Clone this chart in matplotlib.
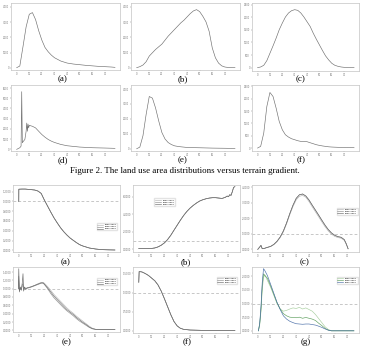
import matplotlib
matplotlib.use('Agg')
import matplotlib.pyplot as plt

# --- DATA ---
# top two rows: area distribution versus terrain gradient
x_top = [0, 2.5, 5, 7.5, 10, 12.5, 15, 17.5, 20, 22.5, 25, 27.5, 30, 32.5, 35, 37.5,
         40, 45, 50, 55, 60, 65, 70, 75, 78]
dist_a = [0, 110, 1380, 2690, 3520, 3630, 3170, 2430, 1810, 1330, 1050, 830, 656, 546,
          437, 372, 306, 240, 197, 153, 120, 87, 66, 44, 22]
dist_e = [0, 110, 875, 2295, 3500, 3390, 2730, 1860, 1090, 656, 415, 284, 197, 160,
          131, 110, 87, 75, 66, 55, 44, 38, 33, 25, 22]

x_b = [0, 2.5, 5, 7.5, 10, 12.5, 15, 17.5, 20, 22.5, 25, 27.5, 30, 32.5, 35, 37.5, 40,
       42.5, 45, 47.5, 50, 52.5, 55, 57.5, 60, 62.5, 65, 67.5, 70, 72.5, 75, 78]
dist_b = [0, 66, 175, 393, 765, 984, 1200, 1377, 1552, 1814, 2077, 2295, 2514, 2732,
          2951, 3126, 3344, 3563, 3738, 3825, 3694, 3388, 3020, 2400, 1300, 650, 300,
          120, 44, 15, 0, 0]
dist_c = [0, 27, 93, 279, 572, 864, 1170, 1503, 1769, 2008, 2168, 2261, 2301, 2274,
          2168, 2008, 1822, 1636, 1370, 1130, 904, 678, 465, 306, 173, 93, 53, 27, 13,
          5, 0, 0]
dist_f = [0, 68, 608, 1689, 2257, 2095, 1622, 1081, 743, 540, 446, 378, 338, 297, 270,
          270, 257, 216, 176, 135, 108, 85, 68, 50, 41, 35, 30, 27, 27, 20, 16, 14]

x_d = [0, 2.5, 3.5, 4.0, 4.5, 5, 6.5, 7.5, 8.0, 8.5, 9.0, 9.5, 10, 12.5, 15, 17.5, 20,
       22.5, 25, 27.5, 30, 35, 40, 45, 50, 55, 60, 70, 78]
dist_d = [0, 160, 320, 5645, 645, 740, 970, 1770, 2580, 1770, 2480, 2100, 2350, 2258,
          2100, 1770, 1450, 1190, 970, 806, 677, 484, 355, 290, 226, 194, 160, 130, 100]

# bottom two rows: ratio curves, three periods each
periods = ['2000-2005', '2005-2010', '2000-2010']
x_ra = [0, 0.05, 2.5, 5, 7.5, 10, 12.5, 15, 17.5, 20, 22.5, 25, 27.5, 30, 32.5, 35,
        37.5, 40, 42.5, 45, 47.5, 50, 55, 60, 65, 70, 75]
ratio_a = [1.0, 1.25, 1.253, 1.253, 1.247, 1.240, 1.233, 1.212, 1.164, 1.027, 0.904,
           0.781, 0.664, 0.562, 0.466, 0.384, 0.315, 0.253, 0.205, 0.158, 0.116, 0.089,
           0.048, 0.027, 0.014, 0.010, 0.007]

x_rb = [0, 2.5, 5, 7.5, 10, 12.5, 15, 17.5, 20, 22.5, 25, 27.5, 30, 32.5, 35, 37.5,
        40, 42.5, 45, 47.5, 50, 52.5, 55, 57.5, 60, 62.5, 65, 67.5, 69, 70, 71, 72,
        73, 74, 75]
ratio_b = [0.08, 0.08, 0.08, 0.08, 0.10, 0.15, 0.27, 0.46, 0.73, 1.11, 1.60, 2.18,
           2.75, 3.32, 3.85, 4.31, 4.69, 5.00, 5.27, 5.50, 5.65, 5.76, 5.84, 5.88,
           5.88, 5.84, 5.80, 5.92, 6.07, 5.99, 6.22, 6.15, 6.56, 7.06, 7.14]

x_rc = [0, 1.5, 2.5, 3.5, 5, 7.5, 10, 12.5, 15, 17.5, 20, 22.5, 25, 27.5, 30, 32.5,
        35, 37.5, 40, 42.5, 45, 47.5, 50, 52.5, 55, 57.5, 60, 62.5, 65, 67.5, 69, 70.5]
ratio_c1 = [0.0, 0.15, 0.26, 0.04, 0.06, 0.13, 0.19, 0.32, 0.52, 0.80, 1.19, 1.71,
            2.31, 2.85, 3.29, 3.52, 3.57, 3.44, 3.18, 2.85, 2.53, 2.21, 1.88, 1.56,
            1.28, 1.06, 0.91, 0.82, 0.78, 0.63, 0.37, 0.04]
ratio_c2 = [0.0, 0.14, 0.24, 0.04, 0.06, 0.12, 0.18, 0.30, 0.49, 0.76, 1.13, 1.64,
            2.23, 2.76, 3.19, 3.42, 3.48, 3.36, 3.08, 2.74, 2.42, 2.10, 1.77, 1.46,
            1.19, 0.98, 0.84, 0.76, 0.72, 0.58, 0.33, 0.03]

x_re = [-0.3, 0, 0.5, 1.2, 2, 2.8, 3.3, 3.8, 4.5, 5.5, 6.5, 7.5, 10, 12.5, 15, 17.5,
        19, 20, 22.5, 25, 27.5, 30, 32.5, 35, 37.5, 40, 42.5, 45, 47.5, 50, 52.5, 55,
        57.5, 60, 65, 75]
ratio_e1 = [1.0, 1.48, 0.92, 1.04, 0.96, 1.16, 1.36, 0.94, 1.04, 0.98, 1.02, 1.02,
            1.05, 1.08, 1.11, 1.14, 1.14, 1.11, 1.02, 0.92, 0.82, 0.74, 0.66, 0.58,
            0.50, 0.44, 0.38, 0.31, 0.25, 0.19, 0.14, 0.08, 0.04, 0.024, 0.024, 0.024]
ratio_e2 = [1.0, 1.30, 0.95, 1.00, 0.98, 1.10, 1.12, 0.98, 1.02, 1.00, 1.01, 1.02,
            1.04, 1.07, 1.10, 1.13, 1.13, 1.10, 1.00, 0.88, 0.78, 0.70, 0.62, 0.54,
            0.47, 0.41, 0.35, 0.28, 0.22, 0.17, 0.12, 0.07, 0.035, 0.024, 0.024, 0.024]
ratio_e3 = [1.0, 1.20, 0.97, 1.02, 1.00, 1.05, 1.08, 1.00, 1.03, 1.01, 1.02, 1.03,
            1.05, 1.08, 1.12, 1.15, 1.15, 1.13, 1.05, 0.96, 0.86, 0.78, 0.70, 0.62,
            0.54, 0.47, 0.41, 0.34, 0.28, 0.22, 0.16, 0.10, 0.05, 0.024, 0.024, 0.024]

x_rf = [0, 0.3, 2.5, 5, 7.5, 10, 12.5, 15, 17.5, 20, 22.5, 25, 27.5, 30, 32.5, 35, 40,
        50, 75]
ratio_f = [1.27, 1.55, 1.54, 1.50, 1.45, 1.38, 1.31, 1.20, 1.04, 0.84, 0.63, 0.42,
           0.24, 0.125, 0.063, 0.036, 0.018, 0.009, 0.009]

x_rg = [0.5, 1.5, 2.5, 3.5, 4.5, 5.5, 7.5, 10, 12.5, 15, 17.5, 20, 22.5, 25, 27.5, 30,
        32.5, 35, 37.5, 40, 42.5, 45, 47.5, 50, 52.5, 55, 57.5, 60, 75]
ratio_g1 = [0, 0.20, 0.70, 1.50, 1.95, 2.05, 1.85, 1.60, 1.30, 1.00, 0.80, 0.72, 0.75,
            0.80, 0.84, 0.82, 0.86, 0.80, 0.84, 0.78, 0.72, 0.60, 0.45, 0.30, 0.15,
            0.05, 0, 0, 0]
ratio_g2 = [0, 0.25, 0.78, 1.65, 2.09, 2.03, 1.93, 1.65, 1.34, 1.03, 0.80, 0.63, 0.55,
            0.50, 0.49, 0.48, 0.50, 0.46, 0.49, 0.46, 0.43, 0.38, 0.28, 0.19, 0.09,
            0.025, 0, 0, 0]
ratio_g3 = [0, 0.27, 0.90, 1.78, 2.28, 2.21, 2.03, 1.71, 1.38, 1.05, 0.78, 0.55, 0.43,
            0.35, 0.30, 0.26, 0.25, 0.24, 0.25, 0.25, 0.23, 0.21, 0.17, 0.125, 0.07,
            0.025, 0, 0, 0]

# --- FIGURE ---
W, H = 369, 348
fig = plt.figure(figsize=(W / 100, H / 100), dpi=100)
serif = ['Liberation Serif', 'DejaVu Serif']
LINE = '#6e6e6e'
GRAYS = ['#b5b5b5', '#8f8f8f', '#6c6c6c']
COLS = ['#a8cfa0', '#5c9e5c', '#4b6fa8']


def panel(x0, y0, x1, y1, ymin, ymax, yticks, fmt, xmax=82):
    ax = fig.add_axes([x0 / W, 1 - y1 / H, (x1 - x0) / W, (y1 - y0) / H])
    ax.set_xlim(-4.5, xmax)
    ax.set_ylim(ymin, ymax)
    ax.set_xticks(range(0, 80, 10))
    ax.set_yticks(yticks)
    ax.set_yticklabels([fmt.format(v) for v in yticks])
    for s in ax.spines.values():
        s.set_color('#c4c4c4')
        s.set_linewidth(0.5)
    ax.tick_params(labelsize=1.8, length=1, width=0.3, pad=0.5, colors='#777777')
    return ax


def label(txt, x, y, size=6.5):
    fig.text(x / W, 1 - y / H, txt, ha='center', va='center', family=serif, size=size)


# top panels
ax = panel(11, 3, 120, 70, -153, 4262, range(0, 4001, 1000), '{:d}')
ax.plot(x_top, dist_a, color=LINE, lw=0.45)
ax = panel(131, 3, 240, 70, -153, 4262, range(0, 4001, 1000), '{:d}')
ax.plot(x_b, dist_b, color=LINE, lw=0.45)
ax = panel(252, 3, 359, 71, -133, 2566, range(0, 2501, 500), '{:d}')
ax.plot(x_b, dist_c, color=LINE, lw=0.45)
ax = panel(11, 85, 120, 151, -160, 6300, range(0, 6001, 1000), '{:d}')
ax.plot(x_d, dist_d, color=LINE, lw=0.45)
ax = panel(131, 85, 240, 151, -150, 4270, range(0, 4001, 1000), '{:d}')
ax.plot(x_top, dist_e, color=LINE, lw=0.45)
ax = panel(252, 85, 359, 151, -120, 2560, range(0, 2501, 500), '{:d}')
ax.plot(x_b, dist_f, color=LINE, lw=0.45)

for t, x in zip(['(a)', '(b)', '(c)'], [63, 183, 301]):
    label(t, x, 79.5)
for t, x in zip(['(d)', '(e)', '(f)'], [63, 183, 301]):
    label(t, x, 160.5)
label('Figure 2. The land use area distributions versus terrain gradient.', 185, 170.5, 6.4)


# bottom panels
def ratio_panel(box, ylim, yticks, series, xs, leg_xy, cols=GRAYS):
    ax = panel(*box, *ylim, yticks, '{:.4f}', xmax=79)
    ax.axhline(1.0, color='#b0b0b0', lw=0.5, ls=(0, (4, 3)))
    for ys, c, name in zip(series, cols, periods):
        ax.plot(xs, ys, color=c, lw=0.45, label=name)
    ax.legend(loc='upper left', bbox_to_anchor=leg_xy, fontsize=1.6, frameon=True,
              handlelength=2.5, borderpad=0.4, labelspacing=0.2, edgecolor='#dddddd',
              fancybox=False)
    return ax


ratio_panel((13, 185, 120, 252), (-0.034, 1.336), [0, 0.2, 0.4, 0.6, 0.8, 1.0, 1.2],
            [ratio_a, ratio_a, ratio_a], x_ra, (0.77, 0.45))
ratio_panel((133, 185, 240, 252), (-0.31, 7.33), [0, 2, 4, 6],
            [ratio_b, ratio_b, ratio_b], x_rb, (0.19, 0.82))
ratio_panel((252, 185, 359, 252), (-0.17, 4.15), [0, 1, 2, 3, 4],
            [ratio_c2, ratio_c1, ratio_c1], x_rc, (0.78, 0.68))
ratio_panel((13, 267, 120, 332), (-0.04, 1.52), [0, 0.2, 0.4, 0.6, 0.8, 1.0, 1.2, 1.4],
            [ratio_e3, ratio_e2, ratio_e1], x_re, (0.77, 0.85))
ratio_panel((133, 267, 240, 333), (-0.06, 1.67), [0, 0.5, 1.0, 1.5],
            [ratio_f, ratio_f, ratio_f], x_rf, (0.77, 0.87))
ratio_panel((252, 267, 359, 333), (-0.08, 2.34), [0, 0.5, 1.0, 1.5, 2.0],
            [ratio_g1, ratio_g2, ratio_g3], x_rg, (0.78, 0.87), cols=COLS)

for t, x in zip(['(a)', '(b)', '(c)'], [66, 186, 305]):
    label(t, x, 262.5)
for t, x in zip(['(e)', '(f)', '(g)'], [67, 187, 306]):
    label(t, x, 342)

fig.savefig('out.png', dpi=100, facecolor='white')
